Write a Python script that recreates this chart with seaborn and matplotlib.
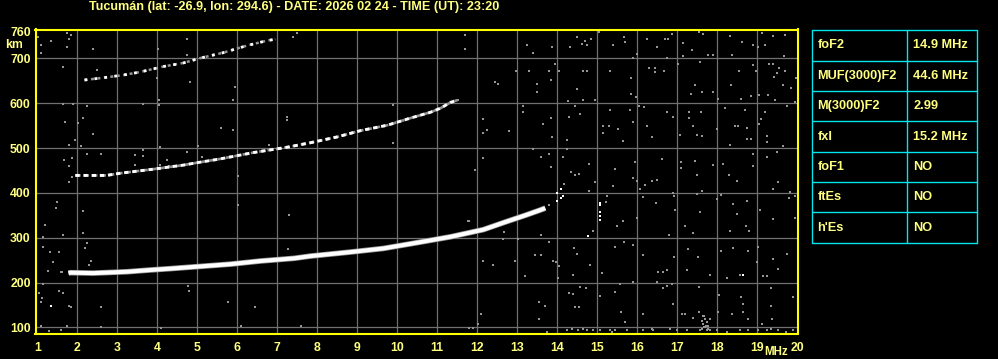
import numpy as np
import pandas as pd
import matplotlib
matplotlib.use("Agg")
import matplotlib.pyplot as plt
import seaborn as sns
from matplotlib.lines import Line2D

# ---------------- data ----------------
title = "Tucumán (lat: -26.9, lon: 294.6) - DATE: 2026 02 24 - TIME (UT): 23:20"
x_ticks = list(range(1, 21))
y_ticks = [100, 200, 300, 400, 500, 600, 700, 760]

# first-hop F2 trace
hop1_mhz = [1.78, 1.83, 2.4, 3.24, 3.83, 4.33, 5.08, 5.83, 6.58, 7.42, 7.83, 8.83,
            9.65, 10.5, 11.33, 12.15, 12.7, 13.2, 13.55, 13.7]
hop1_km = [221, 222, 221, 224, 228, 231, 236, 241, 248, 254, 259, 268,
           276, 289, 302, 318, 335, 350, 361, 366]
# second hop
hop2_mhz = [1.95, 2.73, 3.08, 3.9, 4.65, 4.9, 5.58, 6.4, 7.25, 7.83, 8.5, 9.08,
            9.75, 10.33, 10.83, 11.08, 11.33, 11.5]
hop2_km = [439, 439, 444, 453, 462, 466, 476, 490, 502, 512, 525, 539,
           551, 567, 580, 589, 602, 607]
# third hop
hop3_mhz = [2.18, 2.65, 3.15, 3.58, 4.15, 4.65, 5.08, 5.65, 6.25, 6.75, 6.95]
hop3_km = [652, 657, 663, 670, 682, 690, 701, 713, 729, 740, 743]

# bright isolated echoes
bright_mhz = [1.34, 14.78, 18.64, 15.08, 15.08, 15.08, 15.08, 15.08,
              14.09, 14.0, 14.14, 14.09, 14.0]
bright_km = [148, 303, 217, 378, 373, 358, 349, 340,
             409, 400, 394, 388, 383]

# scattered noise echoes (MHz, km)
noise = [
    (14.50, 747), (14.61, 733), (14.70, 740), (14.84, 744), (15.05, 760), (15.67, 747), (15.70, 736),
    (15.99, 710), (15.90, 701), (16.70, 744), (16.78, 744), (16.86, 755), (17.14, 735), (17.15, 706),
    (17.36, 718), (17.55, 760), (17.65, 755), (17.78, 708), (17.90, 708), (18.32, 750), (18.36, 708),
    (18.61, 736), (18.90, 729), (19.03, 725), (19.20, 729), (19.40, 751), (19.70, 753), (19.68, 705),
    (13.24, 730), (13.40, 712), (13.86, 725), (14.32, 725), (14.74, 729), (15.40, 730), (16.24, 744),
    (16.49, 725), (19.11, 757),
    (12.97, 671), (13.30, 671), (13.49, 643), (13.49, 626), (13.80, 673), (13.84, 653), (13.95, 688),
    (14.05, 671), (14.49, 631), (14.64, 673), (14.75, 673), (14.64, 608), (14.28, 606), (14.95, 608),
    (15.32, 673), (15.84, 656), (15.84, 621), (15.97, 613), (16.30, 678), (16.45, 669), (16.45, 678),
    (16.68, 671), (16.74, 701), (17.03, 688), (17.34, 621), (17.45, 641), (17.57, 692), (17.61, 626),
    (17.90, 626), (18.03, 610), (18.34, 640), (18.55, 671), (18.84, 617), (18.89, 686), (18.97, 671),
    (19.05, 619), (19.30, 688), (19.39, 688), (19.42, 658), (19.55, 678), (19.70, 671), (19.49, 668),
    (19.65, 641), (19.84, 634), (19.97, 656), (19.95, 604), (19.28, 619), (19.45, 608), (18.59, 610),
    (12.80, 539), (13.14, 593), (13.14, 581), (13.65, 554), (13.84, 567), (13.86, 524), (14.25, 519),
    (14.30, 569), (14.45, 595), (14.57, 576), (15.32, 586), (15.15, 549), (15.14, 534), (15.30, 550),
    (15.53, 543), (15.65, 515), (15.82, 584), (15.89, 559), (16.05, 593), (16.18, 591), (16.24, 549),
    (16.36, 524), (16.74, 581), (16.89, 569), (17.07, 529), (17.30, 581), (17.30, 567), (17.40, 550),
    (17.49, 529), (17.59, 581), (17.63, 528), (17.99, 543), (18.20, 589), (18.32, 506), (18.45, 550),
    (18.53, 550), (18.70, 585), (18.75, 544), (18.74, 520), (18.84, 520), (19.05, 554), (19.10, 564),
    (19.20, 581), (19.24, 528), (19.24, 513), (19.64, 504), (19.75, 595),
    (13.40, 497), (13.59, 480), (13.80, 487), (13.84, 457), (14.14, 480), (14.25, 497), (14.34, 446),
    (14.45, 439), (14.55, 442), (14.18, 420), (14.80, 465), (14.80, 404), (14.95, 424), (15.45, 453),
    (15.40, 416), (15.94, 468), (15.90, 433), (15.99, 427), (16.20, 418), (16.36, 427), (16.49, 429),
    (16.07, 409), (16.61, 476), (17.10, 468), (17.10, 455), (17.49, 439), (17.45, 472), (17.90, 462),
    (18.14, 465), (18.30, 439), (18.49, 427), (18.89, 461), (18.90, 487), (19.24, 480), (19.49, 491),
    (19.53, 425), (19.40, 409), (19.82, 401), (17.61, 405),
    (15.25, 393), (15.22, 379), (15.49, 327), (15.65, 338), (15.99, 343), (16.15, 390), (16.47, 378),
    (16.92, 394), (16.94, 361), (17.20, 327), (17.40, 311), (17.49, 398), (17.57, 357), (17.99, 387),
    (18.09, 395), (18.40, 375), (18.49, 353), (18.74, 383), (18.72, 327), (18.80, 316), (19.07, 361),
    (19.39, 342), (19.80, 388), (19.95, 343), (19.95, 394), (14.89, 316), (16.90, 400),
    (16.80, 305), (18.32, 316), (13.59, 305), (13.80, 372), (13.03, 297), (12.65, 297), (12.67, 312),
    (12.95, 247), (13.20, 214), (13.45, 262), (13.59, 262), (13.80, 290), (13.90, 249), (13.97, 245),
    (14.05, 236), (14.03, 210), (14.42, 276), (14.40, 217), (14.49, 264), (14.82, 239), (15.11, 221),
    (15.45, 279), (15.67, 290), (15.89, 284), (16.14, 262), (16.53, 224), (16.65, 223), (16.74, 227),
    (16.92, 256), (17.28, 275), (17.24, 229), (17.53, 256), (17.82, 217), (18.09, 271), (18.24, 210),
    (18.39, 276), (18.57, 217), (18.78, 271), (18.99, 245), (19.03, 279), (19.15, 214), (19.25, 214),
    (19.39, 253), (19.53, 230), (19.74, 264),
    (13.55, 156), (13.70, 148), (13.55, 119), (14.30, 177), (14.40, 174), (14.57, 189), (14.72, 187),
    (14.45, 145), (14.55, 145), (15.07, 171), (15.45, 178), (15.57, 197), (15.59, 134), (15.70, 111),
    (15.89, 201), (16.15, 130), (16.49, 201), (16.64, 187), (16.74, 193), (16.86, 197), (16.90, 152),
    (17.11, 130), (17.20, 130), (17.55, 189), (17.40, 120), (17.55, 134), (17.67, 126), (18.04, 172),
    (18.36, 130), (18.59, 167), (18.64, 152), (18.64, 134), (18.78, 119), (19.13, 108), (19.34, 187),
    (19.34, 147), (19.90, 167), (19.36, 119), (18.03, 135),
    (13.74, 90), (14.24, 93), (14.36, 96), (14.53, 93), (14.65, 96), (14.75, 93), (14.90, 93),
    (15.07, 93), (15.32, 93), (15.36, 90), (15.45, 93), (15.74, 94), (16.15, 93), (16.36, 96),
    (16.40, 93), (16.82, 96), (16.99, 93), (17.24, 93), (17.57, 93), (17.67, 100), (17.72, 104),
    (17.78, 96), (17.82, 93), (17.99, 93), (18.24, 90), (18.57, 93), (18.78, 93), (19.03, 93),
    (19.24, 93), (19.34, 96), (19.53, 93), (19.72, 90), (19.89, 93),
    (17.61, 115), (17.65, 108), (17.70, 119), (17.74, 111), (17.78, 104), (17.82, 119), (17.70, 100),
    (17.61, 96), (17.74, 93), (17.65, 126),
    (1.02, 748), (1.09, 730), (1.09, 712), (1.34, 739), (1.74, 757), (1.84, 752), (1.79, 744),
    (1.74, 726), (2.39, 721), (4.02, 721), (4.74, 744), (4.74, 708), (7.39, 748), (7.49, 757),
    (11.69, 752), (11.69, 721), (1.64, 682), (4.83, 648), (5.94, 636), (2.49, 674), (3.99, 657),
    (1.64, 598), (1.90, 598), (2.24, 595), (1.69, 559), (2.14, 568), (2.03, 555), (2.39, 531),
    (1.94, 518), (1.80, 507), (2.09, 505), (1.67, 473), (1.86, 477), (1.78, 461), (2.24, 487),
    (2.59, 487), (3.44, 485), (3.44, 462), (3.64, 496), (3.64, 483), (4.07, 503), (4.03, 596),
    (4.03, 607), (3.65, 598), (4.74, 492), (5.03, 505), (5.11, 481), (5.59, 544), (5.89, 540),
    (5.89, 607), (6.03, 438), (7.24, 570), (7.24, 563), (6.78, 508), (9.89, 596), (9.89, 511),
    (11.53, 607), (11.94, 451), (4.07, 462), (4.24, 473), (4.29, 461), (1.78, 424), (1.86, 436),
    (12.44, 648), (12.52, 643), (12.14, 564), (12.24, 541), (12.14, 534), (12.14, 477), (11.79, 338),
    (11.78, 338), (12.14, 249), (12.39, 239),
    (2.24, 289), (2.19, 276), (2.34, 249), (2.30, 239), (1.61, 223), (4.77, 192), (7.28, 274),
    (1.49, 380), (1.47, 366), (1.19, 328), (1.15, 302), (1.14, 280), (1.32, 267), (1.55, 267),
    (1.39, 246), (1.64, 306), (2.14, 360), (2.14, 311), (1.28, 226), (1.59, 224), (1.14, 197),
    (1.05, 177), (1.55, 182), (1.64, 177), (1.11, 165), (4.79, 182), (6.03, 373), (7.30, 351),
    (1.09, 157), (1.79, 148), (1.84, 145), (2.59, 145), (1.09, 103), (1.74, 103), (2.59, 101),
    (1.29, 92), (1.59, 94), (5.78, 157), (6.44, 145), (6.09, 103), (7.59, 103), (4.09, 98),
    (12.09, 130), (12.03, 107), (11.80, 98), (11.90, 98),
]
noise_mhz = [p[0] for p in noise]
noise_km = [p[1] for p in noise]

table_params = ["foF2", "MUF(3000)F2", "M(3000)F2", "fxI", "foF1", "ftEs", "h'Es"]
table_values = ["14.9 MHz", "44.6 MHz", "2.99", "15.2 MHz", "NO", "NO", "NO"]

# ---------------- style ----------------
sns.set_theme(style="dark")
plt.rcParams["font.family"] = ["Liberation Sans", "DejaVu Sans"]
YEL = "#ffff80"
BORDER = "#ffff00"
GRID = "#707070"
DOT = "#959595"

W, H = 998, 359
fig = plt.figure(figsize=(W / 100, H / 100), dpi=100, facecolor="black")

def fx(px):
    return px / W

def fy(py):
    return 1 - py / H

ax = fig.add_axes([fx(35.5), fy(333.5), fx(798.3) - fx(35.5), fy(29.5) - fy(333.5)])
ax.set_facecolor("black")

df_noise = pd.DataFrame({"MHz": noise_mhz, "km": noise_km})
df1 = pd.DataFrame({"MHz": hop1_mhz, "km": hop1_km})
df2 = pd.DataFrame({"MHz": hop2_mhz, "km": hop2_km})
df3 = pd.DataFrame({"MHz": hop3_mhz, "km": hop3_km})
df_b = pd.DataFrame({"MHz": bright_mhz, "km": bright_km})

sns.scatterplot(data=df_noise, x="MHz", y="km", ax=ax, color=DOT, marker="s",
                s=4.2, linewidth=0, zorder=3)
# first hop: grey halo + white core
sns.lineplot(data=df1, x="MHz", y="km", ax=ax, color=DOT, linewidth=4.0,
             sort=False, estimator=None, zorder=4, solid_capstyle="butt")
sns.lineplot(data=df1, x="MHz", y="km", ax=ax, color="white", linewidth=2.9,
             sort=False, estimator=None, zorder=5, solid_capstyle="butt")
# second hop
sns.lineplot(data=df2, x="MHz", y="km", ax=ax, color=DOT, linewidth=1.9,
             sort=False, estimator=None, zorder=4)
ax.lines[-1].set_dashes([2.0, 1.2])
sns.lineplot(data=df2, x="MHz", y="km", ax=ax, color="white", linewidth=2.1,
             sort=False, estimator=None, zorder=5)
ax.lines[-1].set_dashes([1.5, 1.3])
# third hop
sns.lineplot(data=df3, x="MHz", y="km", ax=ax, color=DOT, linewidth=1.8,
             sort=False, estimator=None, zorder=4)
ax.lines[-1].set_dashes([1.2, 1.4])
sns.lineplot(data=df3, x="MHz", y="km", ax=ax, color="white", linewidth=2.0,
             sort=False, estimator=None, zorder=5)
ax.lines[-1].set_dashes([1.0, 2.6])
sns.scatterplot(data=df_b, x="MHz", y="km", ax=ax, color="white", marker="s",
                s=4.5, linewidth=0, zorder=6)

ax.set_xlim(0.955, 20.025)
ax.set_ylim(86.2, 764.7)
ax.set_xticks(x_ticks)
ax.set_yticks(y_ticks)
ax.set_xticklabels([str(t) for t in x_ticks])
ax.set_yticklabels([str(t) for t in y_ticks])
ax.set_xlabel("")
ax.set_ylabel("")
ax.grid(False)
for xv in x_ticks[1:-1]:
    ax.axvline(xv, color=GRID, linewidth=0.9, zorder=1)
for yv in y_ticks[:-1]:
    ax.axhline(yv, color=GRID, linewidth=0.9, zorder=1)
ax.tick_params(axis="both", length=0, colors=YEL, labelsize=8.8)
ax.tick_params(axis="x", pad=6)
ax.tick_params(axis="y", pad=3.5)
for lab in ax.get_xticklabels() + ax.get_yticklabels():
    lab.set_fontweight("bold")
    lab.set_color(YEL)
for sp in ax.spines.values():
    sp.set_visible(True)
    sp.set_color(BORDER)
    sp.set_linewidth(1.5)
if ax.get_legend() is not None:
    ax.get_legend().remove()

fig.text(fx(294), fy(7), title, color=YEL, fontsize=9.1, fontweight="bold",
         ha="center", va="center")
fig.text(fx(14), fy(45), "km", color=YEL, fontsize=8.8, fontweight="bold",
         ha="center", va="center")
fig.text(fx(776), fy(352), "MHz", color=YEL, fontsize=8.3, fontweight="bold",
         ha="center", va="center")

# parameter table
tx0, tx1, tcol = 812.3, 977.3, 907.0
ty0, ty1 = 30.3, 242.7
n = len(table_params)
rh = (ty1 - ty0) / n
CY = "#00e5ee"
for i in range(n + 1):
    yy = ty0 + i * rh
    fig.add_artist(Line2D([fx(tx0), fx(tx1)], [fy(yy), fy(yy)], color=CY, linewidth=1.0))
for xx in (tx0, tcol, tx1):
    fig.add_artist(Line2D([fx(xx), fx(xx)], [fy(ty0), fy(ty1)], color=CY, linewidth=1.0))
for i, (p, v) in enumerate(zip(table_params, table_values)):
    yc = ty0 + (i + 0.5) * rh
    fig.text(fx(817.5), fy(yc), p, color=YEL, fontsize=9.2, fontweight="bold",
             ha="left", va="center")
    fig.text(fx(913), fy(yc), v, color=YEL, fontsize=9.2, fontweight="bold",
             ha="left", va="center")

fig.savefig("out.png", dpi=100, facecolor="black")
